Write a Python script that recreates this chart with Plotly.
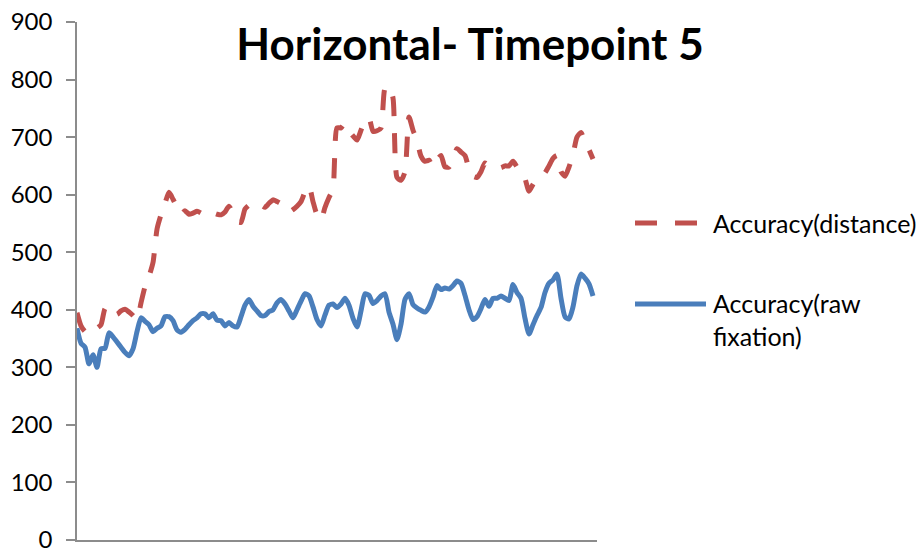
import plotly.graph_objects as go

# Sample index (time points) and the two series
time_points = list(range(130))

accuracy_distance = [
    395, 372, 362, 358, 362, 368, 374, 402, 406, 397,
    392, 398, 401, 396, 390, 383, 412, 440, 458, 482,
    540, 565, 585, 604, 592, 578, 566, 572, 566, 568,
    571, 568, 563, 565, 568, 566, 565, 570, 580, 568,
    553, 552, 575, 582, 585, 586, 582, 578, 585, 591,
    588, 584, 575, 570, 574, 580, 588, 605, 615, 588,
    565, 556, 578, 595, 610, 716, 716, 724, 711, 702,
    695, 712, 728, 733, 710, 711, 716, 785, 788, 768,
    630, 625, 640, 735, 712, 694, 667, 658, 660, 648,
    660, 668, 648, 648, 660, 680, 674, 668, 645, 632,
    630, 640, 655, 650, 651, 648, 647, 650, 650, 658,
    648, 640, 628, 606, 618, 628, 632, 638, 650, 663,
    668, 640, 632, 648, 670, 700, 708, 690, 678, 662,
]

accuracy_raw_fixation = [
    368, 342, 335, 306, 322, 300, 332, 333, 360, 353,
    344, 335, 326, 320, 332, 362, 386, 380, 374, 362,
    368, 372, 388, 388, 381, 365, 361, 366, 374, 381,
    386, 393, 393, 386, 393, 382, 381, 372, 378, 372,
    370, 388, 408, 418, 406, 398, 390, 390, 397, 400,
    412, 418, 410, 398, 386, 400, 415, 428, 424, 405,
    383, 372, 391, 408, 410, 404, 410, 420, 408, 385,
    370, 398, 428, 425, 411, 416, 424, 428, 396, 375,
    348, 375, 418, 428, 409, 403, 399, 396, 405, 422,
    442, 435, 438, 436, 442, 450, 446, 425, 400, 383,
    388, 402, 418, 406, 420, 420, 424, 420, 416, 444,
    430, 420, 385, 358, 374, 390, 404, 430, 446, 452,
    462, 420, 388, 384, 405, 442, 462, 455, 445, 424,
]

series_names = ["Accuracy(distance)", "Accuracy(raw<br>fixation)"]
y_ticks = [0, 100, 200, 300, 400, 500, 600, 700, 800, 900]
title_text = "Horizontal- Timepoint 5"

RED = "#C0504D"
BLUE = "#4A7EBB"
AXIS = "#8C8C8C"
FONT = "Lato, Carlito, Calibri, sans-serif"

fig = go.Figure()
fig.add_trace(go.Scatter(
    x=time_points, y=accuracy_distance, mode="lines",
    name="Accuracy(distance)",
    line=dict(color=RED, width=5, dash="20px,17px", shape="spline", smoothing=0.6),
))
fig.add_trace(go.Scatter(
    x=time_points, y=accuracy_raw_fixation, mode="lines",
    name="Accuracy(raw fixation)",
    line=dict(color=BLUE, width=5, shape="spline", smoothing=0.6),
))

W, H = 920, 552
fig.update_layout(
    width=W, height=H,
    margin=dict(l=77, r=323, t=22, b=12, autoexpand=False),
    paper_bgcolor="white", plot_bgcolor="white",
    showlegend=False,
    font=dict(family=FONT, color="black"),
    title=dict(
        text="<b>" + title_text + "</b>",
        x=470 / W, xref="container", xanchor="center",
        y=1 - 45 / H, yref="container", yanchor="middle",
        font=dict(family=FONT, size=44, color="black"),
    ),
    xaxis=dict(
        range=[0, 130], showline=True, linecolor=AXIS, linewidth=1.5,
        showticklabels=False, ticks="", showgrid=False, zeroline=False,
        automargin=False,
    ),
    yaxis=dict(
        range=[0, 900], tickvals=y_ticks, showline=True, linecolor=AXIS, linewidth=1.5,
        ticks="outside", ticklen=9, tickcolor=AXIS, tickwidth=1.5,
        ticklabelstandoff=9, ticklabeloverflow="allow",
        showgrid=False, zeroline=False, automargin=False,
        tickfont=dict(family=FONT, size=24, color="black"),
    ),
)

# Manual legend (Excel-style long line samples)
fig.add_shape(type="line", xref="paper", yref="paper",
              x0=(635 - 77) / 520, x1=(705 - 77) / 520,
              y0=(540 - 223) / 518, y1=(540 - 223) / 518,
              line=dict(color=RED, width=5, dash="22px,18px"))
fig.add_shape(type="line", xref="paper", yref="paper",
              x0=(635 - 77) / 520, x1=(706 - 77) / 520,
              y0=(540 - 304) / 518, y1=(540 - 304) / 518,
              line=dict(color=BLUE, width=5))
fig.add_annotation(text=series_names[0], xref="paper", yref="paper",
                   x=(711 - 77) / 520, y=(540 - 223) / 518,
                   xanchor="left", yanchor="middle", showarrow=False, align="left",
                   font=dict(family=FONT, size=25, color="black"))
fig.add_annotation(text=series_names[1], xref="paper", yref="paper",
                   x=(711 - 77) / 520, y=(540 - 319) / 518,
                   xanchor="left", yanchor="middle", showarrow=False, align="left",
                   font=dict(family=FONT, size=25, color="black"))

fig.write_html("out.html", config={"displayModeBar": False},
               post_script="document.body.style.margin='0';")
